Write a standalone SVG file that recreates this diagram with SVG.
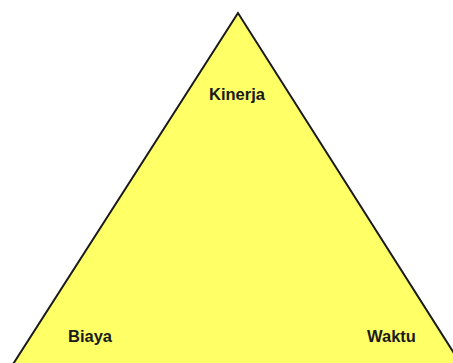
<svg xmlns="http://www.w3.org/2000/svg" width="453" height="363" viewBox="0 0 453 363">
<style>
.lbl{font-family:"Liberation Sans",Arial,sans-serif;font-size:16.5px;font-weight:bold;fill:#1a1a1a}
</style>
<rect width="453" height="363" fill="#ffffff"/>
<g id="triangle">
<polygon points="238,13 8,372 466,372" fill="#ffff66" stroke="#1a1a1a" stroke-width="2"/>
</g>
<g id="kinerja"><text class="lbl" x="237" y="100" text-anchor="middle">Kinerja</text></g>
<g id="biaya"><text class="lbl" x="68" y="342">Biaya</text></g>
<g id="waktu"><text class="lbl" x="367" y="342">Waktu</text></g>
<g id="connectors"></g>
</svg>
